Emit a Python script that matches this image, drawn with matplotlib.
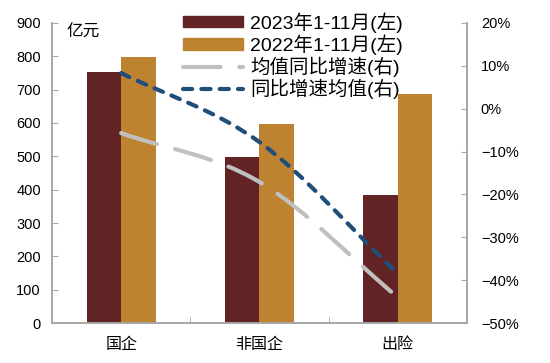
import numpy as np
import matplotlib
matplotlib.use('Agg')
import matplotlib.pyplot as plt
from matplotlib.path import Path
from matplotlib.patches import PathPatch
from matplotlib.lines import Line2D
from matplotlib.patches import Patch

plt.rcParams['font.family'] = ['Liberation Sans', 'Noto Sans CJK SC', 'DejaVu Sans']
plt.rcParams['axes.unicode_minus'] = False

# ─── data ────────────────────────────────────────────────────────────────────
categories = ['国企', '非国企', '出险']
val_2023 = [753, 497, 385]          # 亿元
val_2022 = [798, 597, 686]          # 亿元
avg_yoy = [-5.7, -17.1, -44.0]      # 均值同比增速 (%)
yoy_avg = [8.3, -7.8, -38.5]        # 同比增速均值 (%)

labels = ['2023年1-11月(左)', '2022年1-11月(左)', '均值同比增速(右)', '同比增速均值(右)']

C_2023, C_2022 = '#622325', '#BD8330'
C_GRAY, C_BLUE = '#C0C0C0', '#1F4E79'
SPINE = '#A6A6A6'


def smooth_path(xs, ys):
    """Bezier path through the points (Excel-like smoothed line)."""
    P = np.column_stack([xs, ys]).astype(float)
    n = len(P)
    T = np.zeros_like(P)
    T[0] = P[1] - P[0]
    T[-1] = P[-1] - P[-2]
    for i in range(1, n - 1):
        T[i] = (P[i + 1] - P[i - 1]) / 2
    verts, codes = [P[0]], [Path.MOVETO]
    for i in range(n - 1):
        verts += [P[i] + T[i] / 3, P[i + 1] - T[i + 1] / 3, P[i + 1]]
        codes += [Path.CURVE4] * 3
    return Path(verts, codes)


fig = plt.figure(figsize=(5.5, 3.63), dpi=100)
ax = fig.add_axes([0.0945, 0.110, 0.7545, 0.827])
ax2 = ax.twinx()

x = np.arange(len(categories))
w = 0.25
ax.bar(x - w / 2, val_2023, w, color=C_2023, zorder=2)
ax.bar(x + w / 2, val_2022, w, color=C_2022, zorder=2)

ax.set_xlim(-0.5, 2.5)
ax.set_ylim(0, 900)
ax.set_yticks(range(0, 901, 100))
ax.set_xticks(x)
ax.set_xticklabels(categories, fontsize=11.5)
ax.set_xticks([0.5, 1.5], minor=True)
ax.tick_params(axis='x', which='major', length=0, pad=10)
ax.tick_params(axis='x', which='minor', direction='in', length=4, color=SPINE)
ax.tick_params(axis='y', direction='in', length=4, color=SPINE, labelsize=10.5, pad=8)
ax.text(0.036, 0.995, '亿元', transform=ax.transAxes, fontsize=12, va='top')

ax2.set_ylim(-50, 20)
ax2.set_yticks(range(-50, 21, 10))
ax2.set_yticklabels([f'{v}%' if v >= 0 else f'\u2212{-v}%' for v in range(-50, 21, 10)])
ax2.tick_params(axis='y', direction='in', length=4, color=SPINE, labelsize=10.5, pad=10)

for a in (ax, ax2):
    a.spines['top'].set_visible(False)
    for s in ('left', 'right', 'bottom'):
        a.spines[s].set_color(SPINE)
        a.spines[s].set_linewidth(1.2)

gray = PathPatch(smooth_path(x, avg_yoy), fill=False, edgecolor=C_GRAY, lw=3,
                 linestyle=(0, (9, 4.5)), capstyle='round', zorder=3)
blue = PathPatch(smooth_path(x, yoy_avg), fill=False, edgecolor=C_BLUE, lw=3,
                 linestyle=(0, (2.2, 2.2)), capstyle='round', zorder=3)
ax2.add_patch(gray)
ax2.add_patch(blue)

handles = [
    Patch(color=C_2023), Patch(color=C_2022),
    Line2D([], [], color=C_GRAY, lw=3, linestyle=(0, (9, 4.5)), dash_capstyle='round'),
    Line2D([], [], color=C_BLUE, lw=3, linestyle=(0, (2.2, 2.2)), dash_capstyle='round'),
]
fig.legend(handles, labels, loc='upper left', bbox_to_anchor=(183 / 550, 1 - 12 / 363),
           frameon=False, fontsize=14, handlelength=3.1, handleheight=0.55,
           handletextpad=0.35, labelspacing=0.1, borderpad=0, borderaxespad=0)

fig.savefig('out.png', dpi=100)
